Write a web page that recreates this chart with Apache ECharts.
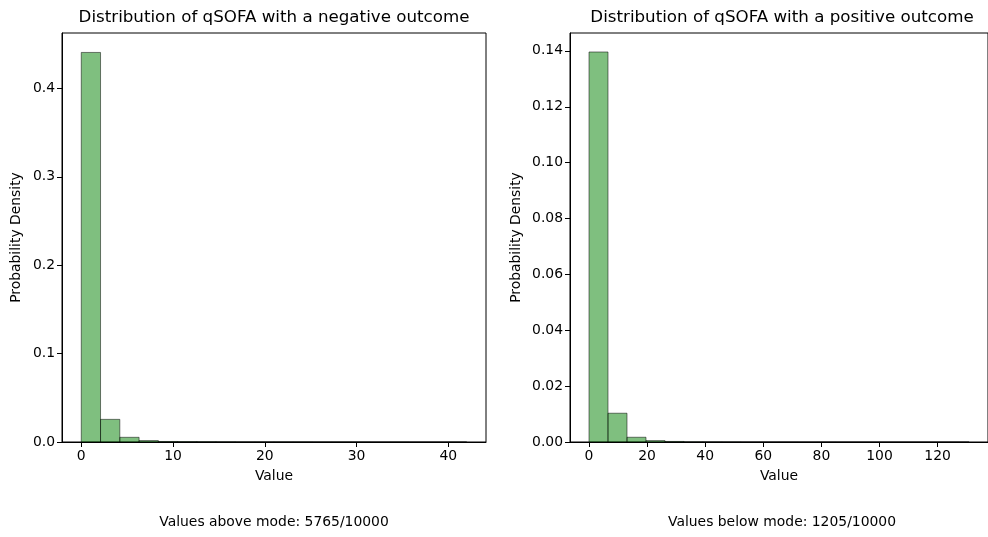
<!DOCTYPE html>
<html lang="en">
<head>
    <meta charset="UTF-8">
    <title>qSOFA distribution</title>
    <script src="https://cdn.jsdelivr.net/npm/echarts@6/dist/echarts.min.js"></script>
</head>
<style>
html,body{margin: 0;padding: 0;background:#fff}
#chartBox{width: 988px;height: 537px}
</style>
<body>
    <div id="chartBox"></div>
</body>
<script>
// bin edges and densities
const negEdges = [0, 2.1, 4.2, 6.3, 8.4, 10.5, 12.6, 14.7, 16.8, 18.9, 21, 23.1, 25.2, 27.3, 29.4, 31.5, 33.6, 35.7, 37.8, 39.9, 42];
const negDensity = [0.4407, 0.0256, 0.0053, 0.0016, 0.0006, 0.0004, 0.0003, 0.0002, 0.0001, 0.0001, 0.0001, 0.0001, 0.00005, 0.00005, 0.00005, 0, 0.00005, 0, 0, 0.00005];
const posEdges = [0, 6.54, 13.08, 19.62, 26.16, 32.7, 39.24, 45.78, 52.32, 58.86, 65.4, 71.94, 78.48, 85.02, 91.56, 98.1, 104.64, 111.18, 117.72, 124.26, 130.8];
const posDensity = [0.1396, 0.0103, 0.0017, 0.0005, 0.0002, 0.00005, 0.00003, 0.00002, 0.00001, 0.00001, 0.00001, 0, 0.00001, 0, 0, 0, 0, 0, 0, 0.00001];

const negTicksX = [0, 10, 20, 30, 40];
const posTicksX = [0, 20, 40, 60, 80, 100, 120];
const negTicksY = [0, 0.1, 0.2, 0.3, 0.4];
const posTicksY = [0, 0.02, 0.04, 0.06, 0.08, 0.10, 0.12, 0.14];

const titles = ['Distribution of qSOFA with a negative outcome', 'Distribution of qSOFA with a positive outcome'];
const notes = ['Values above mode: 5765/10000', 'Values below mode: 1205/10000'];

const FONT = 'DejaVu Sans';

function binRows(edges, dens){
    return dens.map((d, i) => [edges[i], edges[i + 1], d]);
}

function xAxisOpt(idx, min, max, ticks){
    return {
        type: 'value', gridIndex: idx, min: min, max: max,
        name: 'Value', nameLocation: 'middle', nameGap: 27,
        nameTextStyle: {fontFamily: FONT, fontSize: 13.9, color: '#000'},
        axisLine: {show: true, onZero: false, lineStyle: {color: '#000', width: 1}},
        axisTick: {show: true, length: 5, customValues: ticks, lineStyle: {color: '#000'}},
        axisLabel: {customValues: ticks, fontFamily: FONT, fontSize: 13.9, color: '#000', margin: 7},
        splitLine: {show: false}
    };
}

function yAxisOpt(idx, max, ticks, digits, gap){
    return {
        type: 'value', gridIndex: idx, min: 0, max: max,
        name: 'Probability Density', nameLocation: 'middle', nameGap: gap,
        nameTextStyle: {fontFamily: FONT, fontSize: 13.9, color: '#000'},
        axisLine: {show: true, onZero: false, lineStyle: {color: '#000', width: 1}},
        axisTick: {show: true, length: 5, customValues: ticks, lineStyle: {color: '#000'}},
        axisLabel: {customValues: ticks, fontFamily: FONT, fontSize: 13.9, color: '#000', margin: 7,
            formatter: v => v.toFixed(digits)},
        splitLine: {show: false}
    };
}

function histSeries(idx, rows){
    return {
        type: 'custom', xAxisIndex: idx, yAxisIndex: idx,
        data: rows,
        encode: {x: [0, 1], y: 2},
        renderItem: function(params, api){
            const p0 = api.coord([api.value(0), api.value(2)]);
            const p1 = api.coord([api.value(1), 0]);
            return {
                type: 'rect',
                shape: {x: p0[0], y: p0[1], width: p1[0] - p0[0], height: p1[1] - p0[1]},
                style: {fill: 'rgba(0,128,0,0.5)', stroke: 'rgba(0,0,0,0.5)', lineWidth: 1}
            };
        }
    };
}

const option = {
    animation: false,
    backgroundColor: '#fff',
    grid: [
        {left: 62, top: 33, width: 424, height: 409, show: true, borderColor: '#000', borderWidth: 1},
        {left: 570, top: 33, width: 424, height: 409, show: true, borderColor: '#000', borderWidth: 1}
    ],
    xAxis: [
        xAxisOpt(0, -2.1, 44.1, negTicksX),
        xAxisOpt(1, -6.54, 137.34, posTicksX)
    ],
    yAxis: [
        yAxisOpt(0, 0.4627, negTicksY, 1, 39),
        yAxisOpt(1, 0.1464, posTicksY, 2, 47)
    ],
    graphic: [
        {type: 'text', x: 274, y: 18, style: {text: titles[0], fontFamily: FONT, fontSize: 16.7, fill: '#000', align: 'center', verticalAlign: 'middle'}},
        {type: 'text', x: 782, y: 18, style: {text: titles[1], fontFamily: FONT, fontSize: 16.7, fill: '#000', align: 'center', verticalAlign: 'middle'}},
        {type: 'text', x: 274, y: 522, style: {text: notes[0], fontFamily: FONT, fontSize: 13.9, fill: '#000', align: 'center', verticalAlign: 'middle'}},
        {type: 'text', x: 782, y: 522, style: {text: notes[1], fontFamily: FONT, fontSize: 13.9, fill: '#000', align: 'center', verticalAlign: 'middle'}}
    ],
    series: [
        histSeries(0, binRows(negEdges, negDensity)),
        histSeries(1, binRows(posEdges, posDensity))
    ]
};

let chartObj = echarts.init(document.getElementById('chartBox'));
chartObj.setOption(option);
</script>
</html>
